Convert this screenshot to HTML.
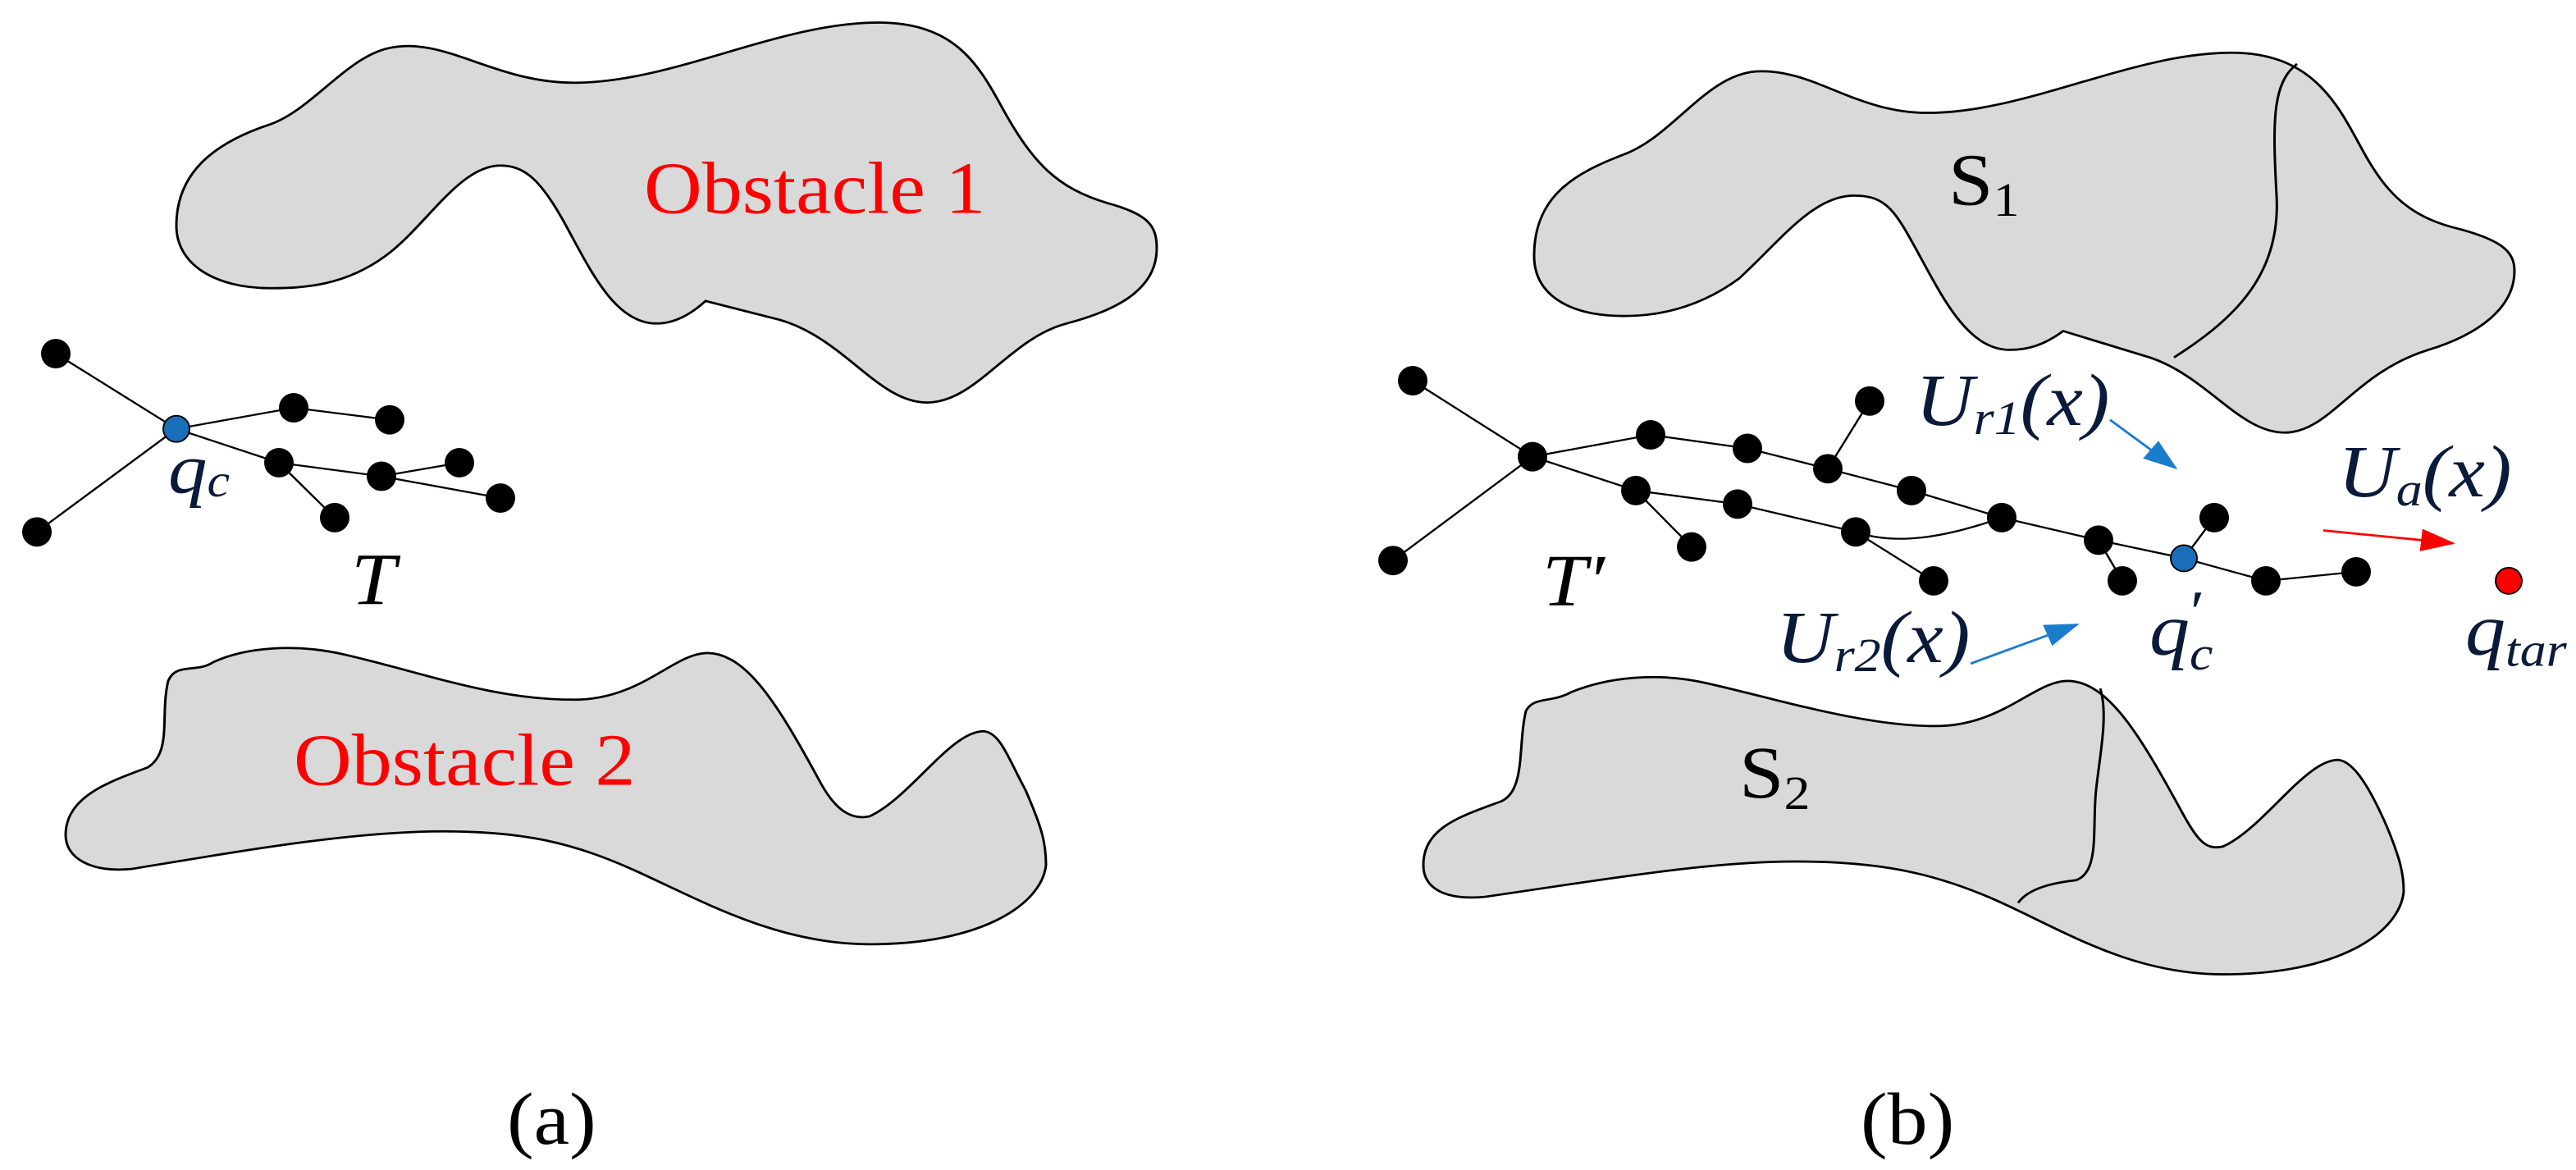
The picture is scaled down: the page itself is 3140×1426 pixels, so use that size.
<!DOCTYPE html>
<html><head><meta charset="utf-8"><style>
html,body{margin:0;padding:0;background:#fff;}
svg{display:block;}
svg text{font-family:'Liberation Serif','DejaVu Serif','Times New Roman',serif !important;}
</style></head><body>
<svg width="3140" height="1426" viewBox="0 0 3140 1426" xmlns="http://www.w3.org/2000/svg" style="font-family:'Liberation Serif','DejaVu Serif',serif;">
<defs>
<marker id="ab" markerWidth="14" markerHeight="10" refX="13" refY="5" orient="auto" markerUnits="strokeWidth"><path d="M0,0 L14,5 L0,10 Z" fill="#1b7ccc"/></marker>
<marker id="ar" markerWidth="14" markerHeight="10" refX="13" refY="5" orient="auto" markerUnits="strokeWidth"><path d="M0,0 L14,5 L0,10 Z" fill="#f00"/></marker>
</defs>
<g transform="scale(1,0.917)" stroke="#000" stroke-width="3">
<path fill="#d9d9d9" d="M215,300 C215,230 260,190 330,165 C380,145 420,80 470,65 C540,45 600,110 700,110 C820,110 950,30 1070,30 C1160,30 1190,80 1220,140 C1260,220 1290,250 1350,270 C1400,285 1410,300 1410,330 C1410,380 1370,410 1300,430 C1230,450 1190,535 1130,535 C1070,535 1030,450 950,425 L860,400 C840,420 820,430 800,430 C750,430 720,360 690,300 C660,240 640,220 610,220 C560,220 520,300 470,340 C420,380 370,383 330,383 C260,383 215,350 215,300 Z"/>
<path fill="#d9d9d9" d="M80,1110 C80,1060 130,1040 180,1020 C210,1000 195,950 205,905 C215,880 240,895 260,880 C300,860 360,855 420,870 C520,895 600,930 700,930 C780,930 820,870 860,868 C910,866 950,940 1000,1040 C1020,1080 1040,1090 1060,1085 C1110,1060 1160,970 1200,972 C1220,975 1230,1010 1250,1050 C1270,1100 1275,1120 1275,1150 C1270,1200 1200,1255 1060,1255 C950,1255 860,1200 780,1160 C700,1120 640,1105 540,1105 C430,1105 300,1130 160,1155 C110,1160 80,1140 80,1110 Z"/>
<g stroke-width="2.5" fill="none">
<path d="M68,470 L215,570 M45,707 L215,570 M215,570 L358,542 L475,558 M215,570 L340,615 L465,633 L560,615 M465,633 L610,662 M340,615 L408,688"/>
</g>
<g stroke="none" fill="#000">
<ellipse cx="68" cy="470" rx="18" ry="19.6"/><ellipse cx="45" cy="707" rx="18" ry="19.6"/><ellipse cx="358" cy="542" rx="18" ry="19.6"/><ellipse cx="475" cy="558" rx="18" ry="19.6"/><ellipse cx="340" cy="615" rx="18" ry="19.6"/><ellipse cx="465" cy="633" rx="18" ry="19.6"/><ellipse cx="560" cy="615" rx="18" ry="19.6"/><ellipse cx="610" cy="662" rx="18" ry="19.6"/><ellipse cx="408" cy="688" rx="18" ry="19.6"/>
</g>
<ellipse cx="215" cy="570" rx="16" ry="17.5" fill="#1a6fb8" stroke="#000" stroke-width="2"/>
<g stroke="none">
<text x="785" y="283" font-size="98" fill="#f00">Obstacle 1</text>
<text x="358" y="1043" font-size="98" fill="#f00">Obstacle 2</text>
<text x="205" y="655" font-size="95" font-style="italic" fill="#0a1a3a">q<tspan font-size="62" dy="5">c</tspan></text>
<text x="428" y="803" font-size="98" font-style="italic" fill="#000">T</text>
<text x="618" y="1520" font-size="98" fill="#000">(a)</text>
</g>
</g>
<g transform="translate(1570,0) scale(1,0.917)" stroke="#000" stroke-width="3">
<path fill="#d9d9d9" d="M300,340 C300,260 350,230 410,205 C470,180 510,100 570,95 C640,90 690,150 780,150 C900,150 1030,70 1150,70 C1250,70 1280,140 1310,200 C1340,260 1370,290 1430,305 C1480,320 1495,335 1495,360 C1495,410 1450,445 1390,465 C1300,495 1270,575 1215,575 C1160,575 1120,500 1050,475 L945,440 C920,460 900,465 880,465 C830,465 800,400 770,340 C740,280 730,260 690,260 C640,260 600,320 550,370 C500,410 450,420 410,420 C340,420 300,390 300,340 Z"/>
<path fill="none" d="M1230,85 C1200,110 1200,160 1205,260 C1210,360 1160,420 1080,475"/>
<path fill="#d9d9d9" d="M165,1150 C165,1100 210,1085 260,1065 C290,1050 280,990 290,945 C300,925 320,935 345,920 C390,900 450,893 510,908 C600,930 700,965 790,965 C870,965 910,905 950,905 C1000,905 1040,980 1090,1080 C1110,1120 1120,1130 1140,1125 C1190,1100 1240,1010 1280,1010 C1300,1012 1320,1050 1340,1100 C1355,1140 1360,1160 1360,1185 C1355,1240 1280,1295 1140,1295 C1030,1295 950,1240 870,1200 C790,1160 720,1145 620,1145 C510,1145 380,1170 240,1192 C190,1197 165,1180 165,1150 Z"/>
<path fill="none" d="M990,915 C1000,950 990,1000 985,1050 C980,1100 990,1160 960,1170 C920,1175 900,1185 890,1200"/>
<g stroke-width="2.5" fill="none">
<path d="M152,506 L298,607 M128,745 L298,607 M298,607 L442,578 L560,596 L658,623 L709,533 M658,623 L760,652 L870,688 L988,718 L1017,772 M988,718 L1092,742 L1129,688 M1092,742 L1192,772 L1302,760 M298,607 L424,652 L548,670 L692,707 L787,772 M424,652 L492,727 M692,707 C740,725 800,715 870,688"/>
</g>
<g stroke="none" fill="#000">
<ellipse cx="152" cy="506" rx="18" ry="19.6"/><ellipse cx="298" cy="607" rx="18" ry="19.6"/><ellipse cx="128" cy="745" rx="18" ry="19.6"/><ellipse cx="442" cy="578" rx="18" ry="19.6"/><ellipse cx="560" cy="596" rx="18" ry="19.6"/><ellipse cx="658" cy="623" rx="18" ry="19.6"/><ellipse cx="709" cy="533" rx="18" ry="19.6"/><ellipse cx="760" cy="652" rx="18" ry="19.6"/><ellipse cx="870" cy="688" rx="18" ry="19.6"/><ellipse cx="988" cy="718" rx="18" ry="19.6"/><ellipse cx="1017" cy="772" rx="18" ry="19.6"/><ellipse cx="1129" cy="688" rx="18" ry="19.6"/><ellipse cx="1192" cy="772" rx="18" ry="19.6"/><ellipse cx="1302" cy="760" rx="18" ry="19.6"/><ellipse cx="424" cy="652" rx="18" ry="19.6"/><ellipse cx="548" cy="670" rx="18" ry="19.6"/><ellipse cx="692" cy="707" rx="18" ry="19.6"/><ellipse cx="787" cy="772" rx="18" ry="19.6"/><ellipse cx="492" cy="727" rx="18" ry="19.6"/>
</g>
<ellipse cx="1092" cy="742" rx="16" ry="17.5" fill="#1a6fb8" stroke="#000" stroke-width="2"/>
<ellipse cx="1488" cy="772" rx="16" ry="17.5" fill="#f00" stroke="#000" stroke-width="2"/>
<g fill="none">
<line x1="1002" y1="558" x2="1082" y2="622" stroke="#1b7ccc" marker-end="url(#ab)" stroke-width="3"/>
<line x1="832" y1="882" x2="962" y2="830" stroke="#1b7ccc" marker-end="url(#ab)" stroke-width="3"/>
<line x1="1262" y1="705" x2="1420" y2="722" stroke="#f00" marker-end="url(#ar)" stroke-width="3"/>
</g>
<g stroke="none" fill="#0a1a3a" font-style="italic">
<text x="765" y="565" font-size="98">U<tspan font-size="64" dy="12">r1</tspan><tspan dy="-12">(x)</tspan></text>
<text x="1280" y="660" font-size="98">U<tspan font-size="64" dy="12">a</tspan><tspan dy="-12">(x)</tspan></text>
<text x="595" y="880" font-size="98">U<tspan font-size="64" dy="12">r2</tspan><tspan dy="-12">(x)</tspan></text>
<text x="1050" y="870" font-size="98">q<tspan font-size="64" dy="20">c</tspan></text>
<text x="1095" y="840" font-size="80">′</text>
<text x="1435" y="870" font-size="98">q<tspan font-size="64" dy="15">tar</tspan></text>
<text x="310" y="805" font-size="98" fill="#000">T′</text>
</g>
<g stroke="none" fill="#000">
<text x="805" y="272" font-size="98">S<tspan font-size="64" dy="15">1</tspan></text>
<text x="550" y="1060" font-size="98">S<tspan font-size="64" dy="15">2</tspan></text>
<text x="698" y="1520" font-size="98">(b)</text>
</g>
</g>
</svg>
</body></html>
